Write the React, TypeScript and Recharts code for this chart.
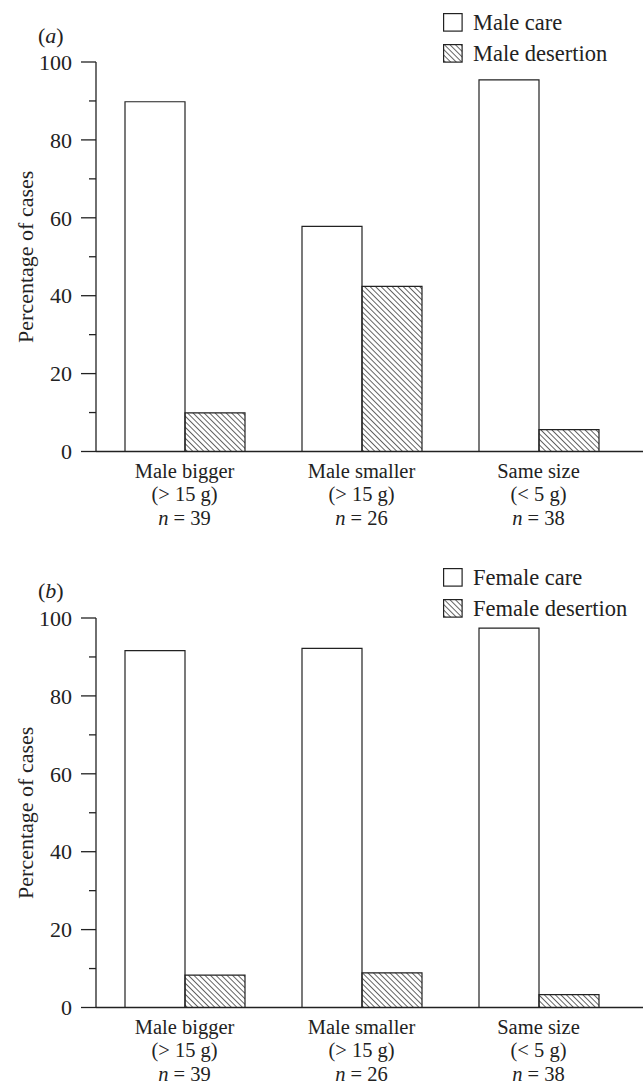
import React from "react";
import { BarChart, Bar, XAxis, YAxis, Legend } from "recharts";

// group labels along the x axis
const categories = ["Male bigger", "Male smaller", "Same size"];
const weightLabels = ["(> 15 g)", "(> 15 g)", "(< 5 g)"];
const sampleSizes = [39, 26, 38];

// panel (a): male behaviour, % of cases
const maleCare = [89.8, 57.8, 95.4];
const maleDesertion = [9.9, 42.4, 5.6];

// panel (b): female behaviour, % of cases
const femaleCare = [91.6, 92.2, 97.4];
const femaleDesertion = [8.3, 8.9, 3.3];

const yTicks = [0, 10, 20, 30, 40, 50, 60, 70, 80, 90, 100];

const FONT = "'Liberation Serif', 'Times New Roman', serif";
const INK = "#222";

function YTick(props: any) {
  const { x, y, payload } = props;
  const major = payload.value % 20 === 0;
  return (
    <g>
      <line x1={x - (major ? 15 : 7)} x2={x} y1={y} y2={y} stroke={INK} strokeWidth={1.3} />
      {major && (
        <text x={x - 24} y={y} dy="0.35em" textAnchor="end" fontFamily={FONT} fontSize={22} fill={INK}>
          {payload.value}
        </text>
      )}
    </g>
  );
}

function XTick(props: any) {
  const { x, y, index } = props;
  const common = { x, textAnchor: "middle" as const, fontFamily: FONT, fontSize: 20.5, fill: INK };
  return (
    <g>
      <text {...common} y={y + 26}>{categories[index]}</text>
      <text {...common} y={y + 49.5}>{weightLabels[index]}</text>
      <text {...common} y={y + 73}>
        <tspan fontStyle="italic">n</tspan> = {sampleSizes[index]}
      </text>
    </g>
  );
}

function Panel({ id, careName, desertionName, care, desertion }: any) {
  const data = categories.map((c, i) => ({ name: c, care: care[i], desertion: desertion[i] }));
  const hatch = `hatch-${id}`;

  const legendContent = () => (
    <div style={{ fontFamily: FONT, fontSize: 22.5, color: INK }}>
      {[
        { name: careName, fill: "#fff" },
        { name: desertionName, fill: `url(#${hatch})` },
      ].map((it) => (
        <div key={it.name} style={{ display: "flex", alignItems: "center", height: 31 }}>
          <svg width={20} height={19} style={{ marginRight: 10 }}>
            <rect x={0.6} y={0.6} width={18.5} height={17.5} fill={it.fill} stroke={INK} strokeWidth={1.2} />
          </svg>
          <span style={{ lineHeight: "31px" }}>{it.name}</span>
        </div>
      ))}
    </div>
  );

  return (
    <BarChart
      width={643}
      height={555}
      data={data}
      margin={{ top: 62, right: 0, left: 0, bottom: 0 }}
      barGap={0}
    >
      <defs>
        <pattern id={hatch} patternUnits="userSpaceOnUse" width={3.9} height={10} patternTransform="rotate(-45)">
          <line x1={0} y1={0} x2={0} y2={10} stroke={INK} strokeWidth={1.4} />
        </pattern>
      </defs>
      <XAxis
        dataKey="name"
        height={103.5}
        padding={{ left: 0, right: 16 }}
        tickLine={false}
        tickSize={0}
        tickMargin={0}
        axisLine={{ stroke: INK, strokeWidth: 1.3 }}
        tick={<XTick />}
        interval={0}
      />
      <YAxis
        width={96}
        domain={[0, 100]}
        ticks={yTicks}
        interval={0}
        tickLine={false}
        tickSize={0}
        tickMargin={0}
        axisLine={{ stroke: INK, strokeWidth: 1.3 }}
        tick={<YTick />}
        label={{
          value: "Percentage of cases",
          angle: -90,
          position: "insideLeft",
          offset: 25,
          style: { textAnchor: "middle", fontFamily: FONT, fontSize: 22, fill: INK },
        }}
      />
      <Legend
        layout="vertical"
        align="center"
        verticalAlign="middle"
        content={legendContent}
        wrapperStyle={{ top: 6.5, left: 443, width: 200 }}
      />
      <Bar dataKey="care" name={careName} fill="#fff" stroke={INK} strokeWidth={1.2} barSize={60} isAnimationActive={false} />
      <Bar dataKey="desertion" name={desertionName} fill={`url(#${hatch})`} stroke={INK} strokeWidth={1.2} barSize={60} isAnimationActive={false} />
    </BarChart>
  );
}

export default function App() {
  return (
    <div style={{ position: "absolute", left: 0, top: 0, width: 643, height: 1083, background: "#fff" }}>
      <div style={{ position: "absolute", left: 0, top: 0 }}>
        <Panel id="a" careName="Male care" desertionName="Male desertion" care={maleCare} desertion={maleDesertion} />
      </div>
      <div style={{ position: "absolute", left: 0, top: 555.5 }}>
        <Panel id="b" careName="Female care" desertionName="Female desertion" care={femaleCare} desertion={femaleDesertion} />
      </div>
      <svg width={643} height={1083} style={{ position: "absolute", left: 0, top: 0, pointerEvents: "none" }}>
        <text x={38} y={43} fontFamily={FONT} fontSize={22} fill={INK}>
          (<tspan fontStyle="italic">a</tspan>)
        </text>
        <text x={38} y={598} fontFamily={FONT} fontSize={22} fill={INK}>
          (<tspan fontStyle="italic">b</tspan>)
        </text>
      </svg>
    </div>
  );
}
